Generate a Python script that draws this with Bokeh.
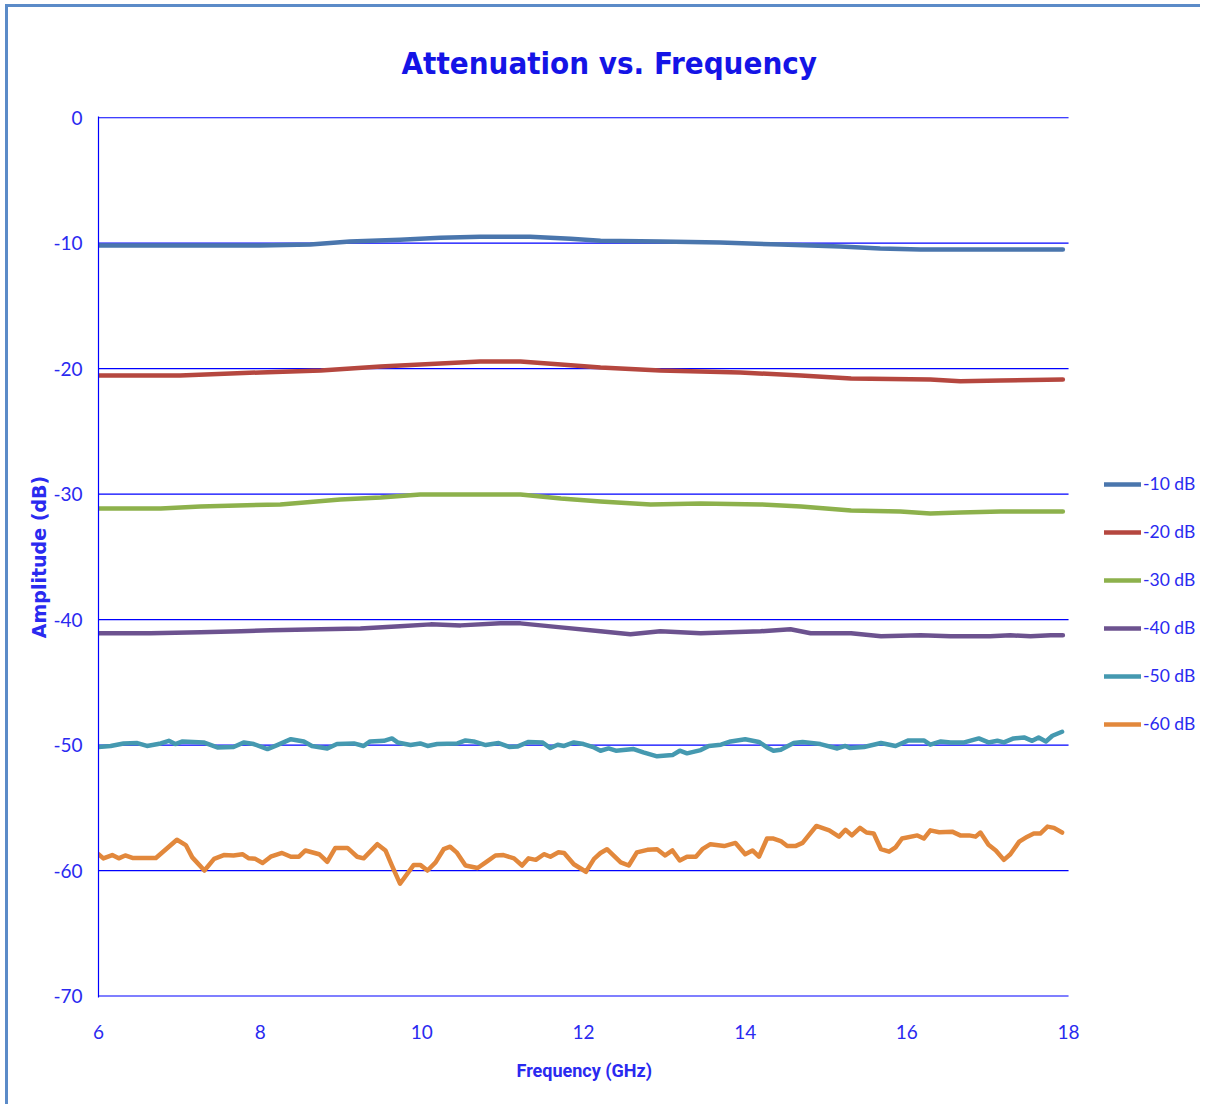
from bokeh.plotting import figure
from bokeh.models import Legend, LegendItem, FixedTicker, Range1d, Title
from bokeh.embed import file_html
from bokeh.resources import INLINE

# ---- data ----
freq_10 = [6.00, 8.00, 8.62, 9.11, 9.73, 10.23, 10.72, 11.34, 11.84, 12.21, 12.95, 13.69, 14.44, 15.18, 15.67, 16.17, 17.93]
amp_10 = [-10.19, -10.19, -10.11, -9.87, -9.72, -9.56, -9.48, -9.48, -9.64, -9.80, -9.87, -9.95, -10.11, -10.27, -10.43, -10.51, -10.51]

freq_20 = [6.00, 7.01, 8.00, 8.75, 9.49, 10.23, 10.72, 11.22, 11.72, 12.21, 12.95, 13.94, 14.69, 15.31, 16.29, 16.66, 17.16, 17.93]
amp_20 = [-20.55, -20.55, -20.30, -20.15, -19.83, -19.59, -19.43, -19.43, -19.67, -19.91, -20.15, -20.30, -20.55, -20.79, -20.86, -21.00, -20.94, -20.86]

freq_30 = [6.00, 6.77, 7.26, 8.25, 8.99, 9.49, 9.98, 11.22, 11.72, 12.21, 12.83, 13.45, 14.19, 14.69, 15.31, 15.92, 16.29, 16.66, 17.16, 17.93]
amp_30 = [-31.14, -31.14, -30.98, -30.82, -30.42, -30.26, -30.02, -30.02, -30.34, -30.58, -30.82, -30.74, -30.82, -30.98, -31.30, -31.38, -31.54, -31.46, -31.38, -31.38]

freq_40 = [6.00, 6.64, 7.26, 7.76, 8.13, 8.75, 9.24, 9.73, 10.11, 10.48, 10.97, 11.22, 11.72, 12.21, 12.58, 12.95, 13.45, 14.19, 14.56, 14.81, 15.31, 15.68, 16.17, 16.54, 17.03, 17.28, 17.53, 17.78, 17.93]
amp_40 = [-41.09, -41.09, -41.01, -40.93, -40.85, -40.77, -40.70, -40.53, -40.38, -40.46, -40.30, -40.30, -40.62, -40.93, -41.17, -40.93, -41.09, -40.93, -40.77, -41.09, -41.09, -41.33, -41.25, -41.33, -41.33, -41.25, -41.33, -41.25, -41.25]

freq_50 = [6.00, 6.15, 6.31, 6.48, 6.60, 6.77, 6.87, 6.95, 7.04, 7.30, 7.47, 7.67, 7.80, 7.92, 8.09, 8.21, 8.38, 8.54, 8.64, 8.83, 8.95, 9.16, 9.28, 9.36, 9.53, 9.63, 9.70, 9.86, 9.98, 10.07, 10.19, 10.44, 10.54, 10.64, 10.79, 10.95, 11.08, 11.18, 11.32, 11.49, 11.59, 11.68, 11.76, 11.88, 12.00, 12.13, 12.21, 12.31, 12.40, 12.62, 12.74, 12.91, 13.10, 13.19, 13.28, 13.45, 13.55, 13.70, 13.82, 14.00, 14.17, 14.27, 14.35, 14.44, 14.60, 14.71, 14.93, 15.14, 15.24, 15.30, 15.47, 15.68, 15.86, 16.02, 16.21, 16.29, 16.42, 16.54, 16.71, 16.89, 17.01, 17.12, 17.20, 17.32, 17.45, 17.55, 17.63, 17.72, 17.80, 17.92]
amp_50 = [-50.15, -50.07, -49.87, -49.84, -50.07, -49.87, -49.66, -49.92, -49.71, -49.79, -50.19, -50.15, -49.79, -49.92, -50.32, -50.00, -49.53, -49.71, -50.07, -50.27, -49.92, -49.87, -50.07, -49.71, -49.66, -49.47, -49.79, -50.00, -49.87, -50.07, -49.92, -49.87, -49.63, -49.71, -50.00, -49.84, -50.15, -50.12, -49.75, -49.79, -50.24, -49.97, -50.07, -49.79, -49.92, -50.19, -50.45, -50.27, -50.45, -50.32, -50.58, -50.90, -50.80, -50.45, -50.66, -50.40, -50.07, -49.97, -49.71, -49.53, -49.75, -50.19, -50.45, -50.37, -49.84, -49.75, -49.92, -50.27, -50.07, -50.24, -50.15, -49.84, -50.07, -49.63, -49.63, -49.97, -49.71, -49.79, -49.79, -49.47, -49.79, -49.66, -49.79, -49.47, -49.39, -49.66, -49.39, -49.71, -49.26, -48.94]

freq_60 = [6.00, 6.06, 6.17, 6.25, 6.33, 6.42, 6.71, 6.97, 7.08, 7.16, 7.31, 7.43, 7.55, 7.67, 7.78, 7.86, 7.94, 8.03, 8.13, 8.27, 8.38, 8.48, 8.56, 8.73, 8.83, 8.93, 9.08, 9.20, 9.28, 9.45, 9.55, 9.63, 9.73, 9.90, 9.98, 10.07, 10.17, 10.27, 10.35, 10.43, 10.54, 10.69, 10.79, 10.91, 11.01, 11.14, 11.24, 11.32, 11.41, 11.51, 11.59, 11.69, 11.76, 11.88, 12.03, 12.13, 12.21, 12.29, 12.46, 12.56, 12.66, 12.79, 12.91, 13.01, 13.10, 13.19, 13.28, 13.39, 13.47, 13.57, 13.74, 13.88, 14.00, 14.09, 14.17, 14.27, 14.35, 14.44, 14.52, 14.62, 14.71, 14.79, 14.88, 15.04, 15.16, 15.24, 15.32, 15.42, 15.50, 15.59, 15.68, 15.78, 15.86, 15.94, 16.13, 16.21, 16.29, 16.40, 16.56, 16.66, 16.77, 16.85, 16.91, 17.01, 17.10, 17.20, 17.28, 17.39, 17.49, 17.57, 17.65, 17.74, 17.82, 17.92]
amp_60 = [-58.70, -59.03, -58.77, -59.03, -58.80, -59.00, -59.00, -57.55, -57.97, -58.95, -60.00, -59.07, -58.77, -58.80, -58.70, -59.03, -59.07, -59.40, -58.90, -58.60, -58.90, -58.90, -58.40, -58.70, -59.30, -58.20, -58.20, -58.90, -59.03, -57.90, -58.40, -59.60, -61.05, -59.55, -59.55, -60.00, -59.35, -58.30, -58.10, -58.55, -59.60, -59.80, -59.35, -58.80, -58.77, -59.03, -59.60, -59.03, -59.15, -58.70, -58.90, -58.55, -58.60, -59.50, -60.10, -59.07, -58.60, -58.30, -59.35, -59.60, -58.55, -58.35, -58.30, -58.80, -58.40, -59.20, -58.90, -58.90, -58.30, -57.90, -58.05, -57.80, -58.70, -58.40, -58.90, -57.45, -57.45, -57.65, -58.05, -58.05, -57.80, -57.15, -56.45, -56.80, -57.30, -56.75, -57.20, -56.60, -56.97, -57.05, -58.30, -58.50, -58.15, -57.45, -57.20, -57.45, -56.80, -56.95, -56.90, -57.20, -57.20, -57.30, -56.97, -57.95, -58.40, -59.15, -58.70, -57.70, -57.30, -57.05, -57.05, -56.50, -56.60, -56.97]

series_names = ["-10 dB", "-20 dB", "-30 dB", "-40 dB", "-50 dB", "-60 dB"]
y_ticks = [0, -10, -20, -30, -40, -50, -60, -70]
x_ticks = [6, 8, 10, 12, 14, 16, 18]
x_min, x_max = 6, 18

colors = ["#4a76ad", "#b5473f", "#8db14c", "#6c528f", "#4599b0", "#e2883c"]
BLUE = "#0000ff"
TXT = "#2a2af0"

# the frame is widened to the right so the legend can sit beside the data area
p = figure(width=1195, height=1100, output_backend="svg", toolbar_location=None,
           x_range=Range1d(6, 19.62), y_range=Range1d(-70.12, 0.1),
           min_border_left=90, min_border_right=4, min_border_top=109, min_border_bottom=110)
p.styles = {"margin-left": "5px", "margin-top": "4px",
            "border-left": "3px solid #5b8bc8", "border-top": "3px solid #5b8bc8"}
p.outline_line_color = None
p.background_fill_color = "white"
p.border_fill_color = "white"

p.title.text = "Attenuation vs. Frequency"
p.title.text_font = "DejaVu Sans Condensed"
p.title.text_font_size = "31px"
p.title.text_font_style = "bold"
p.title.text_color = "#1414e6"
p.title.align = "left"
p.title.offset = 303
p.title.standoff = 71

p.xgrid.grid_line_color = None
p.ygrid.grid_line_color = None

# horizontal grid lines (the lowest doubles as the x axis line), limited to 6..18 GHz
n = len(y_ticks)
p.segment(x0=[x_min] * n, y0=y_ticks, x1=[x_max] * n, y1=y_ticks,
          line_color=BLUE, line_width=1.2)

for ax, ticks in ((p.xaxis[0], x_ticks), (p.yaxis[0], y_ticks)):
    ax.ticker = FixedTicker(ticks=ticks)
    ax.major_label_overrides = {t: str(t) for t in ticks}
    ax.major_tick_line_color = None
    ax.minor_tick_line_color = None
    ax.major_label_text_color = TXT
    ax.major_label_text_font = "Lato"
    ax.major_label_text_font_size = "19px"

p.xaxis.axis_line_color = None
p.yaxis.axis_line_color = BLUE
p.yaxis.axis_line_width = 1.2
p.xaxis.major_label_standoff = 21
p.yaxis.major_label_standoff = 10

xt = Title(text="Frequency (GHz)", text_font="Roboto", text_font_style="bold",
           text_font_size="18px", text_color=TXT, align="left", offset=418, standoff=33)
p.add_layout(xt, "below")

p.yaxis.axis_label = "Amplitude (dB)"
p.yaxis.axis_label_text_font = "DejaVu Sans"
p.yaxis.axis_label_text_font_style = "bold"
p.yaxis.axis_label_text_font_size = "19px"
p.yaxis.axis_label_text_color = TXT
p.yaxis.axis_label_standoff = 0

data = [(freq_10, amp_10), (freq_20, amp_20), (freq_30, amp_30),
        (freq_40, amp_40), (freq_50, amp_50), (freq_60, amp_60)]
items = []
for (fx, ay), name, c in zip(data, series_names, colors):
    r = p.line(fx, ay, line_color=c, line_width=4.5, line_join="round", line_cap="round")
    items.append(LegendItem(label=name, renderers=[r]))

legend = Legend(items=items, location=(1006, 263), padding=0, margin=0,
                spacing=27, label_height=20, glyph_height=20, glyph_width=37,
                label_standoff=2, label_text_font="Lato",
                label_text_font_size="17.5px", label_text_color=TXT,
                background_fill_alpha=0, border_line_color=None)
p.add_layout(legend, "center")

open("out.html", "w").write(file_html(p, INLINE))
